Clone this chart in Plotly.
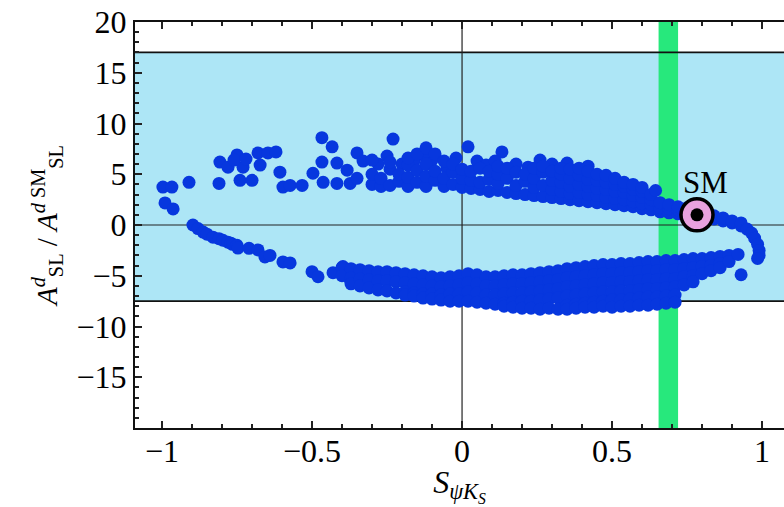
import plotly.graph_objects as go

# ---------------- data ----------------
# sparse upper-left branch
sparse_up_x = [-0.997, -0.967, -0.99, -0.963, -0.91, -0.81, -0.807, -0.78, -0.75, -0.73,
               -0.74, -0.70, -0.68, -0.647, -0.62, -0.673, -0.607, -0.597, -0.573, -0.533,
               -0.497, -0.467, -0.433, -0.467, -0.463, -0.417, -0.417, -0.373, -0.35, -0.383,
               -0.23, 0.02, 0.133, -0.76, -0.72, -0.33, -0.35,
               -0.28, -0.25, -0.20, -0.16, -0.10, -0.05, -0.02, 0.05, 0.08, 0.18,
               0.22, 0.30, 0.35, 0.42, -0.13, 0.11, 0.26]
sparse_up_y = [3.74, 3.74, 2.17, 1.58, 4.2, 4.1, 6.2, 5.7, 6.9, 5.7,
               4.4, 4.4, 7.1, 7.1, 7.2, 5.9, 5.2, 3.74, 3.9, 3.9,
               5.1, 8.6, 7.7, 6.2, 4.2, 6.1, 4.1, 4.1, 7.1, 5.4,
               8.47, 7.7, 7.2, 6.4, 6.5, 6.3, 4.6,
               6.0, 6.8, 6.0, 6.3, 6.4, 5.6, 6.6, 6.3, 5.9, 6.0,
               5.7, 6.0, 6.1, 5.8, 6.9, 6.3, 6.4]

# sparse lower-left branch
sparse_lo_x = [-0.897, -0.88, -0.863, -0.85, -0.83, -0.81, -0.797, -0.78, -0.77, -0.765,
               -0.75, -0.747, -0.71, -0.68, -0.657, -0.64, -0.597, -0.573, -0.50, -0.48,
               -0.43, -0.397, -0.373, -0.33]
sparse_lo_y = [0.0, -0.35, -0.7, -0.9, -1.2, -1.35, -1.5, -1.7, -1.8, -1.9,
               -2.0, -2.27, -2.3, -2.46, -3.15, -3.0, -3.64, -3.74, -4.6, -5.1,
               -4.7, -4.1, -5.4, -4.7]

# dense upper branch, per column: x and its y values
upper_cols_x = [-0.30, -0.27, -0.24, -0.21, -0.18, -0.15, -0.12, -0.09, -0.06, -0.03,
                0.00, 0.03, 0.06, 0.09, 0.12, 0.15, 0.18, 0.21, 0.24, 0.27,
                0.30, 0.33, 0.36, 0.39, 0.42, 0.45, 0.48, 0.51, 0.54, 0.57,
                0.60, 0.63, 0.645, 0.66, 0.69, 0.72, 0.75, 0.78, 0.81, 0.84,
                0.87, 0.90, 0.93, 0.95, 0.965, 0.975, 0.985, 0.99, 0.99, 0.985]
upper_cols_y = [[4.0, 5.0, 6.4], [3.8, 4.6], [3.9, 5.5, 6.2], [4.3, 5.0], [3.8, 4.7, 5.9, 6.6],
                [4.2, 5.4, 7.0], [3.8, 4.8, 6.0, 7.6], [4.4, 5.3, 7.0], [3.8, 4.6, 6.3], [4.0, 5.2, 6.0],
                [3.7, 4.6, 5.5], [3.6, 4.4, 5.3], [3.5, 4.2, 5.6], [3.3, 4.5, 5.3], [3.4, 4.1, 5.0, 5.8],
                [3.2, 4.6, 5.6], [3.1, 3.9, 5.2], [3.0, 4.3, 5.0], [2.9, 3.7, 4.6, 5.6], [2.8, 3.9, 5.2, 5.8],
                [2.7, 3.5, 4.4, 5.3], [2.6, 3.3, 4.2, 5.0, 5.6], [2.5, 3.1, 3.8, 4.6, 5.5], [2.4, 3.2, 4.0, 4.9, 5.6], [2.3, 3.0, 3.8, 4.5, 5.3],
                [2.2, 2.9, 3.6, 4.4, 5.0], [2.1, 2.7, 3.5, 4.2, 4.9], [2.0, 2.6, 3.3, 4.0, 4.6], [1.9, 2.5, 3.2, 3.8, 4.2], [1.8, 2.3, 2.9, 3.5, 4.0],
                [1.6, 2.1, 2.7, 3.3, 3.7], [1.5, 2.0, 2.5, 3.0], [3.4], [1.3, 1.7, 2.2], [1.2, 1.6, 2.0],
                [1.1, 1.5, 1.8], [1.0, 1.4, 1.7], [0.9, 1.3], [0.8, 1.1], [0.6, 0.9],
                [0.4, 0.7], [0.2, 0.4], [-0.1, 0.2], [-0.4], [-0.8],
                [-1.3], [-1.9], [-2.5], [-3.0], [-3.3]]

# dense lower branch, per column
lower_cols_x = [-0.40, -0.37, -0.34, -0.31, -0.28, -0.25, -0.22, -0.19, -0.16, -0.13,
                -0.10, -0.07, -0.04, -0.01, 0.02, 0.05, 0.08, 0.11, 0.14, 0.17,
                0.20, 0.23, 0.26, 0.29, 0.32, 0.35, 0.38, 0.41, 0.44, 0.47,
                0.50, 0.53, 0.56, 0.59, 0.62, 0.65, 0.68, 0.71, 0.74, 0.77,
                0.80, 0.83, 0.86, 0.89, 0.92, 0.93]
lower_cols_y = [[-4.2, -5.0], [-4.3, -5.2, -5.8], [-4.4, -5.3, -6.0], [-4.5, -5.4, -6.2], [-4.6, -5.5, -6.4],
                [-4.6, -5.5, -6.5], [-4.7, -5.6, -6.7], [-4.8, -5.7, -6.6, -6.9], [-4.9, -5.8, -6.7, -7.0], [-5.0, -5.9, -6.8, -7.2],
                [-5.1, -6.0, -6.8, -7.3], [-5.2, -6.1, -6.9, -7.4], [-5.1, -6.0, -6.8, -7.5], [-5.0, -5.9, -6.8, -7.5], [-4.8, -5.7, -6.6, -7.5],
                [-4.9, -5.8, -6.7, -7.6], [-5.1, -6.0, -6.9, -7.7], [-5.1, -6.0, -6.9, -7.8], [-5.0, -5.9, -6.8, -7.7, -8.0], [-4.9, -5.8, -6.7, -7.6, -8.1],
                [-4.9, -5.8, -6.7, -7.5, -8.2], [-4.8, -5.7, -6.6, -7.5, -8.2], [-4.7, -5.6, -6.5, -7.4, -8.3], [-4.6, -5.5, -6.4, -7.3, -8.2], [-4.5, -5.4, -6.3, -7.2, -8.3],
                [-4.3, -5.2, -6.1, -7.0, -7.9, -8.3], [-4.2, -5.1, -6.0, -6.9, -7.8, -8.2], [-4.1, -5.0, -5.9, -6.8, -7.7, -8.1], [-4.0, -4.9, -5.8, -6.7, -7.6, -8.1], [-3.9, -4.8, -5.7, -6.6, -7.5, -8.0],
                [-3.9, -4.8, -5.7, -6.6, -7.4, -8.1], [-3.8, -4.7, -5.6, -6.5, -7.4, -8.0], [-3.8, -4.7, -5.6, -6.5, -7.3, -8.0], [-3.7, -4.6, -5.5, -6.4, -7.2, -7.9], [-3.6, -4.5, -5.4, -6.3, -7.1, -7.9],
                [-3.6, -4.5, -5.4, -6.3, -7.1, -7.8], [-3.5, -4.4, -5.3, -6.2, -7.0, -7.7], [-3.5, -4.4, -5.3, -6.1, -6.9, -7.6], [-3.4, -4.3, -5.1, -5.9], [-3.3, -4.2, -5.0, -5.6],
                [-3.3, -4.1, -4.8], [-3.2, -4.0, -4.5], [-3.1, -3.8, -4.2], [-3.0, -3.6], [-2.9], [-4.9]]

# SM point and bands
sm_x, sm_y = 0.783, 1.0
band_y = [-7.5, 17.0]
green_x = [0.655, 0.72]

x_ticks = [-1, -0.5, 0, 0.5, 1]
x_ticktext = ["\u22121", "\u22120.5", "0", "0.5", "1"]
y_ticks = [-15, -10, -5, 0, 5, 10, 15, 20]
y_ticktext = ["\u221215", "\u221210", "\u22125", "0", "5", "10", "15", "20"]

# ---------------- build ----------------
pts_x = list(sparse_up_x) + list(sparse_lo_x)
pts_y = list(sparse_up_y) + list(sparse_lo_y)
for cx, ys in zip(upper_cols_x, upper_cols_y):
    pts_x += [cx] * len(ys)
    pts_y += ys
for cx, ys in zip(lower_cols_x, lower_cols_y):
    pts_x += [cx] * len(ys)
    pts_y += ys

FONT = "Liberation Serif"
fig = go.Figure()
fig.add_trace(go.Scatter(x=pts_x, y=pts_y, mode="markers",
                         marker=dict(size=13, color="#0737DE", line=dict(width=0)),
                         hoverinfo="skip", showlegend=False))
fig.add_trace(go.Scatter(x=[sm_x], y=[sm_y], mode="markers",
                         marker=dict(size=32, color="#E8A2DE", line=dict(width=3.5, color="black")),
                         showlegend=False))
fig.add_trace(go.Scatter(x=[sm_x], y=[sm_y], mode="markers",
                         marker=dict(size=13, color="black"), showlegend=False))
fig.add_trace(go.Scatter(x=[sm_x], y=[sm_y], mode="markers", xaxis="x2",
                         marker=dict(size=1, opacity=0), showlegend=False, hoverinfo="skip"))

shapes = [
    dict(type="rect", xref="paper", x0=0, x1=1, yref="y", y0=band_y[0], y1=band_y[1],
         fillcolor="#ADE6F6", line=dict(width=0), layer="below"),
    dict(type="rect", xref="x", x0=green_x[0], x1=green_x[1], yref="paper", y0=0, y1=1,
         fillcolor="#27E87C", line=dict(width=0), layer="below"),
    dict(type="line", xref="paper", x0=0, x1=1, yref="y", y0=band_y[1], y1=band_y[1],
         line=dict(color="#111", width=1.8), layer="below"),
    dict(type="line", xref="paper", x0=0, x1=1, yref="y", y0=band_y[0], y1=band_y[0],
         line=dict(color="#111", width=1.8), layer="below"),
    dict(type="line", xref="x", x0=0, x1=0, yref="paper", y0=0, y1=1,
         line=dict(color="#222", width=1.2), layer="below"),
    dict(type="line", xref="paper", x0=0, x1=1, yref="y", y0=0, y1=0,
         line=dict(color="#222", width=1.2), layer="below"),
]

xr = [-1.09, 1.073]
axis_common = dict(showgrid=False, zeroline=False, ticks="inside", ticklen=7, tickwidth=1.5,
                   tickcolor="#222", showline=True, linecolor="#111", linewidth=2,
                   tickfont=dict(family=FONT, size=32, color="black"))
fig.update_layout(
    width=784, height=507,
    margin=dict(l=135, r=0, t=22, b=79),
    paper_bgcolor="white", plot_bgcolor="white",
    shapes=shapes,
    annotations=[dict(x=sm_x + 0.03, y=4.2, xref="x", yref="y", text="SM", showarrow=False,
                      font=dict(family=FONT, size=31, color="black"))],
    xaxis=dict(range=xr, tickvals=x_ticks, ticktext=x_ticktext, mirror=False,
               ticklabelstandoff=-6,
               minor=dict(dtick=0.1, tick0=0, ticks="inside", ticklen=4, tickcolor="#222"),
               title=dict(text="<i>S</i><sub><i>\u03c8K</i><sub><i>S</i></sub></sub>",
                          font=dict(family=FONT, size=32, color="black"), standoff=0),
               **axis_common),
    xaxis2=dict(range=xr, overlaying="x", side="top", showticklabels=False,
                tickvals=x_ticks, minor=dict(dtick=0.1, tick0=0, ticks="inside", ticklen=4, tickcolor="#222"),
                **{k: v for k, v in axis_common.items() if k != "tickfont"}),
    yaxis=dict(range=[-20, 20], tickvals=y_ticks, ticktext=y_ticktext, mirror=False,
               minor=dict(dtick=1, tick0=0, ticks="inside", ticklen=4, tickcolor="#222"),
               title=dict(text="<i>A</i><sup><i>d</i></sup><sub>SL</sub> / <i>A</i><sup><i>d</i> SM</sup><sub>SL</sub>",
                          font=dict(family=FONT, size=29, color="black"), standoff=10),
               **axis_common),
)

fig.write_html("out.html")
